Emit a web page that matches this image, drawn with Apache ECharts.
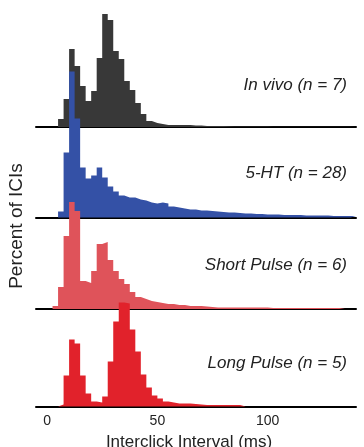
<!DOCTYPE html>
<html><head><meta charset="utf-8">
<script src="https://cdn.jsdelivr.net/npm/echarts@6/dist/echarts.min.js"></script>
<style>html,body{margin:0;padding:0;background:#fff}#c{width:364px;height:447px}</style>
</head><body><div id="c"></div>
<script>
// Histogram bin left edges (ms), 2.5 ms bins, plus the closing right edge
const binEdges = [0,2.5,5,7.5,10,12.5,15,17.5,20,22.5,25,27.5,30,32.5,35,37.5,40,42.5,45,47.5,50,52.5,55,57.5,60,62.5,65,67.5,70,72.5,75,77.5,80,82.5,85,87.5,90,92.5,95,97.5,100,102.5,105,107.5,110,112.5,115,117.5,120,122.5,125,127.5,130,132.5,135,137.5,140];
const xTickLabels = [0, 50, 100];
const panelNames = ['In vivo (n = 7)', '5-HT (n = 28)', 'Short Pulse (n = 6)', 'Long Pulse (n = 5)'];
// Percent of ICIs per bin
const inVivo = [0,0,0.8,2.8,7.8,6.1,4.1,2.6,3.6,6.9, 11.3,10.7,7.6,6.8,4.6,3.7,2.4,1.3,0.6,0.4, 0.3,0.2,0.2,0.2,0.2,0.2,0.15,0.15,0.1,0.1, 0.1,0.1,0.08,0.05,0.05,0.05,0.05,0.05,0.05,0.05, 0.03,0.03,0.03,0.03,0.03,0.03,0.03,0.03,0.03,0.03, 0.03,0.03,0.03,0.03,0.03,0.03];
const fiveHT = [0,0,0.6,6.5,14.6,9.9,5.0,3.9,4.2,5.0, 4.0,3.1,2.6,2.2,2.0,2.0,1.8,1.7,1.5,1.4, 1.5,1.4,1.1,1.0,0.9,0.8,0.8,0.7,0.7,0.65, 0.6,0.55,0.5,0.5,0.45,0.4,0.4,0.35,0.35,0.3, 0.3,0.3,0.25,0.25,0.25,0.25,0.2,0.2,0.2,0.2, 0.2,0.15,0.15,0.15,0.15,0.12];
const shortPulse = [0,0.3,2.2,7.3,10.7,9.8,2.8,2.6,3.8,6.5, 6.7,4.9,3.8,3.0,2.5,1.7,1.2,1.0,0.8,0.7, 0.6,0.5,0.5,0.4,0.4,0.3,0.3,0.3,0.25,0.2, 0.15,0.15,0.15,0.15,0.15,0.15,0.15,0.15,0.15,0.15, 0.1,0.1,0.1,0.1,0.1,0.1,0.1,0.1,0.1,0.1, 0.1,0.1,0.1,0,0,0];
const longPulse = [0,0,0.2,3.1,6.7,6.3,3.1,1.3,0.5,0.4, 1.0,4.5,8.5,10.4,10.3,7.7,5.5,3.2,1.9,1.1, 0.8,0.5,0.4,0.3,0.3,0.3,0.25,0.2,0.15,0.15, 0.15,0.15,0.15,0.15,0.15,0,0,0,0,0, 0,0,0,0,0,0,0,0,0,0, 0,0,0,0,0,0];

const seriesData = [inVivo, fiveHT, shortPulse, longPulse];
const colors = ['#383838', '#3451a6', '#df535a', '#e1222b'];
const baselines = [127, 217.5, 309, 406.5];
const yMax = [12, 15, 12, 12];
const pxPerUnit = 10;
const FONT = '"Liberation Sans", Arial, Helvetica, sans-serif';

const grids = [], xAxes = [], yAxes = [], series = [];
seriesData.forEach((arr, i) => {
  const h = yMax[i] * pxPerUnit;
  grids.push({left: 36, width: 320, top: baselines[i] - h, height: h, outerBoundsMode: 'none', containLabel: false});
  const last = i === seriesData.length - 1;
  xAxes.push({
    type: 'value', gridIndex: i, min: -5, max: 140,
    axisLine: {show: true, onZero: false, lineStyle: {color: '#000', width: 2}},
    axisTick: {show: false}, splitLine: {show: false},
    axisLabel: last ? {show: true, customValues: xTickLabels, color: '#222', fontSize: 14, fontFamily: FONT, margin: 8} : {show: false}
  });
  yAxes.push({type: 'value', gridIndex: i, min: 0, max: yMax[i], show: false, splitLine: {show: false}});
  // step histogram: each value holds from its left edge to the next edge
  const pts = arr.map((v, j) => [binEdges[j], v]);
  pts.push([binEdges[arr.length], 0]);
  series.push({
    type: 'line', step: 'end', xAxisIndex: i, yAxisIndex: i, silent: true,
    symbol: 'none', showSymbol: false, clip: false,
    lineStyle: {width: 0, opacity: 0},
    areaStyle: {color: colors[i], opacity: 1},
    data: pts
  });
});

const labelY = [85, 173, 265, 363];
const graphics = panelNames.map((t, i) => ({
  type: 'text', z: 10,
  style: {text: t, x: 347, y: labelY[i], font: 'italic 17px ' + FONT, fill: '#222', textAlign: 'right', align: 'right', textVerticalAlign: 'middle', verticalAlign: 'middle'}
}));
graphics.push({type: 'text', z: 10, style: {text: 'Interclick Interval (ms)', x: 189, y: 442, font: '17px ' + FONT, fill: '#222', textAlign: 'center', align: 'center', textVerticalAlign: 'middle', verticalAlign: 'middle'}});
graphics.push({type: 'text', z: 10, rotation: Math.PI / 2, x: 17, y: 226, style: {text: 'Percent of ICIs', x: 0, y: 0, font: '19px ' + FONT, fill: '#222', textAlign: 'center', align: 'center', textVerticalAlign: 'middle', verticalAlign: 'middle'}});

const chart = echarts.init(document.getElementById('c'), null, {renderer: 'canvas'});
chart.setOption({
  animation: false, backgroundColor: '#fff',
  grid: grids, xAxis: xAxes, yAxis: yAxes, series: series, graphic: graphics
});
</script></body></html>
